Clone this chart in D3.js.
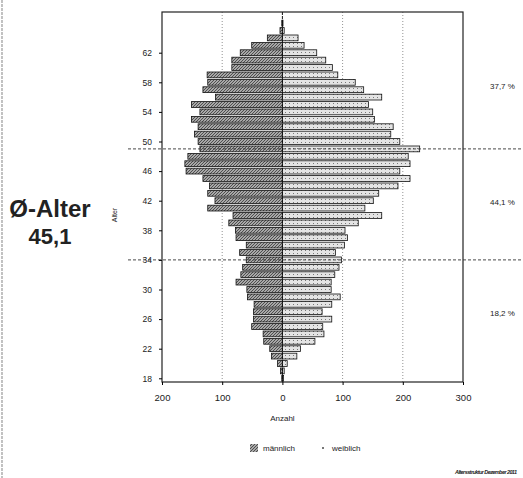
<!DOCTYPE html>
<html>
<head>
<meta charset="utf-8">
<script src="https://cdn.jsdelivr.net/npm/d3@7"></script>
<style>
  body { margin: 0; background: #fff; }
  text { font-family: "Liberation Sans", Arial, sans-serif; fill: #222; }
</style>
</head>
<body>
<div id="chart"></div>
<script>
// age pyramid: men left, women right

// ages shown as bars (one bar per year)
const ages = [18, 19, 20, 21, 22, 23, 24, 25, 26, 27, 28, 29, 30, 31, 32, 33, 34, 35, 36, 37, 38, 39, 40, 41, 42,
              43, 44, 45, 46, 47, 48, 49, 50, 51, 52, 53, 54, 55, 56, 57, 58, 59, 60, 61, 62, 63, 64, 65, 66];
// männlich (left side)
const male = [1, 3, 8, 18, 21, 31, 32, 51, 48, 48, 47, 58, 59, 77, 69, 66, 60, 71, 60, 77, 78, 89, 82, 124, 112,
              124, 121, 132, 160, 162, 157, 137, 140, 146, 140, 151, 137, 151, 111, 132, 124, 125, 84, 84, 70, 51, 25, 4, 1];
// weiblich (right side)
const female = [2, 3, 8, 24, 30, 54, 69, 67, 82, 66, 82, 96, 81, 81, 87, 94, 98, 88, 103, 108, 104, 126, 165, 137, 151,
                160, 192, 212, 195, 212, 209, 228, 195, 180, 184, 153, 150, 143, 165, 135, 121, 92, 83, 72, 57, 36, 26, 3, 1];

const ageTicks = [18, 22, 26, 30, 34, 38, 42, 46, 50, 54, 58, 62];
const countTicks = [-200, -100, 0, 100, 200, 300];
const gridValues = [-100, 100, 200];
// group separators and share of each group
const groupLines = [49, 34];
const groupLabels = ["37,7 %", "44,1 %", "18,2 %"];
const groupLabelAges = [57.5, 41.8, 26.8];
const legendLabels = ["männlich", "weiblich"];

document.addEventListener("DOMContentLoaded", function () {
    const width = 523, height = 478;
    const svg = d3.select("#chart").append("svg")
        .attr("width", width)
        .attr("height", height);

    const plot = { left: 162, right: 463, top: 12, bottom: 382 };

    const x = d3.scaleLinear().domain([-200, 300]).range([plot.left, plot.right]);
    const y = d3.scaleLinear().domain([17.5, 67.5]).range([plot.bottom, plot.top]);
    const barH = 5.8;

    // hatch pattern for the men bars
    const defs = svg.append("defs");
    const pat = defs.append("pattern")
        .attr("id", "hatch")
        .attr("width", 3).attr("height", 3)
        .attr("patternUnits", "userSpaceOnUse");
    pat.append("rect").attr("width", 3).attr("height", 3).attr("fill", "#a8a8a8");
    pat.append("path").attr("d", "M0,3 L3,0").attr("stroke", "#444").attr("stroke-width", 0.9);

    // light dotted pattern for the women bars
    const pat2 = defs.append("pattern")
        .attr("id", "dots")
        .attr("width", 4).attr("height", 3)
        .attr("patternUnits", "userSpaceOnUse");
    pat2.append("rect").attr("width", 4).attr("height", 3).attr("fill", "#e4e4e4");
    pat2.append("rect").attr("x", 1).attr("y", 1).attr("width", 1).attr("height", 1).attr("fill", "#777");

    // left edge line of the scanned page
    svg.append("line")
        .attr("x1", 2).attr("x2", 2).attr("y1", 0).attr("y2", height)
        .attr("stroke", "#999").attr("stroke-width", 1.2)
        .attr("stroke-dasharray", "3,1");

    // vertical grid
    svg.selectAll(".grid")
        .data(gridValues)
        .enter().append("line")
        .attr("x1", d => x(d)).attr("x2", d => x(d))
        .attr("y1", plot.top).attr("y2", plot.bottom)
        .attr("stroke", "#777").attr("stroke-width", 0.8)
        .attr("stroke-dasharray", "1,2");

    // men bars
    svg.selectAll(".male")
        .data(ages)
        .enter().append("rect")
        .attr("x", (d, i) => x(-male[i]))
        .attr("y", d => y(d) - barH / 2)
        .attr("width", (d, i) => x(0) - x(-male[i]))
        .attr("height", barH)
        .attr("fill", "url(#hatch)")
        .attr("stroke", "#111").attr("stroke-width", 0.8);

    // women bars
    svg.selectAll(".female")
        .data(ages)
        .enter().append("rect")
        .attr("x", x(0))
        .attr("y", d => y(d) - barH / 2)
        .attr("width", (d, i) => x(female[i]) - x(0))
        .attr("height", barH)
        .attr("fill", "url(#dots)")
        .attr("stroke", "#111").attr("stroke-width", 0.8);

    // zero line
    svg.append("line")
        .attr("x1", x(0)).attr("x2", x(0))
        .attr("y1", plot.top).attr("y2", plot.bottom)
        .attr("stroke", "#111").attr("stroke-width", 1)
        .attr("stroke-dasharray", "3,1");

    // plot frame
    svg.append("rect")
        .attr("x", plot.left).attr("y", plot.top)
        .attr("width", plot.right - plot.left).attr("height", plot.bottom - plot.top)
        .attr("fill", "none")
        .attr("stroke", "#222").attr("stroke-width", 1.2);

    // group separator lines
    svg.selectAll(".sep")
        .data(groupLines)
        .enter().append("line")
        .attr("x1", 128).attr("x2", width)
        .attr("y1", d => y(d)).attr("y2", d => y(d))
        .attr("stroke", "#333").attr("stroke-width", 0.9)
        .attr("stroke-dasharray", "3,2");

    // axes
    const xAxis = d3.axisBottom(x)
        .tickValues(countTicks)
        .tickFormat(d => Math.abs(d))
        .tickSize(3);
    const gx = svg.append("g")
        .attr("transform", `translate(0,${plot.bottom})`)
        .call(xAxis);
    gx.select(".domain").remove();
    gx.selectAll("text").attr("y", 12).attr("dy", "0.71em").style("font-size", "9.5px");

    const yAxis = d3.axisLeft(y)
        .tickValues(ageTicks)
        .tickSize(3);
    const gy = svg.append("g")
        .attr("transform", `translate(${plot.left},0)`)
        .call(yAxis);
    gy.select(".domain").remove();
    gy.selectAll("text").attr("x", -10).style("font-size", "8.5px");

    // axis titles
    svg.append("text")
        .attr("transform", "translate(117,215) rotate(-90)")
        .attr("text-anchor", "middle")
        .style("font-size", "7px")
        .text("Alter");

    svg.append("text")
        .attr("x", x(0)).attr("y", 421)
        .attr("text-anchor", "middle")
        .style("font-size", "8px")
        .text("Anzahl");

    // group shares on the right
    svg.selectAll(".share")
        .data(groupLabels)
        .enter().append("text")
        .attr("x", 490)
        .attr("y", (d, i) => y(groupLabelAges[i]))
        .attr("dy", "0.35em")
        .style("font-size", "8px")
        .text(d => d);

    // average age
    svg.append("text")
        .attr("x", 50).attr("y", 217)
        .attr("text-anchor", "middle")
        .style("font-size", "24px").style("font-weight", "bold")
        .text("Ø-Alter");
    svg.append("text")
        .attr("x", 50).attr("y", 244)
        .attr("text-anchor", "middle")
        .style("font-size", "22px").style("font-weight", "bold")
        .text("45,1");

    // legend
    svg.append("rect")
        .attr("x", 250).attr("y", 444)
        .attr("width", 8).attr("height", 8)
        .attr("fill", "url(#hatch)");
    svg.append("text")
        .attr("x", 263).attr("y", 451)
        .style("font-size", "8px")
        .text(legendLabels[0]);
    svg.append("rect")
        .attr("x", 322).attr("y", 447)
        .attr("width", 2).attr("height", 2)
        .attr("fill", "#777");
    svg.append("text")
        .attr("x", 332).attr("y", 451)
        .style("font-size", "8px")
        .text(legendLabels[1]);

    // footer
    svg.append("text")
        .attr("x", 455).attr("y", 474)
        .attr("textLength", 62)
        .style("font-size", "5.5px")
        .style("font-style", "italic").style("font-weight", "bold")
        .text("Altersstruktur Dezember 2011");
});
</script>
</body>
</html>
